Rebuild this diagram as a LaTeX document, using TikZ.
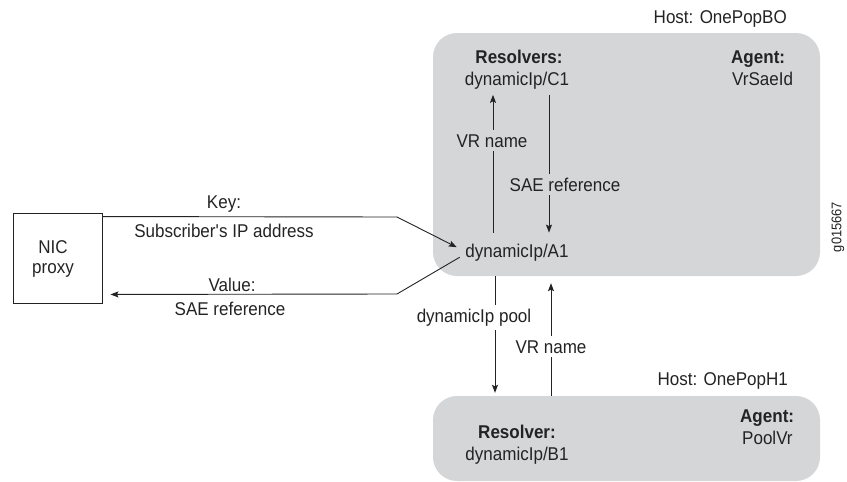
\documentclass[tikz,border=0pt]{standalone}
\usepackage{fontspec}
\setmainfont{Liberation Sans}[FakeStretch=0.92]
\usetikzlibrary{arrows.meta,calc}
\definecolor{hostgray}{RGB}{213,214,216}
\definecolor{ink}{RGB}{35,35,35}
\begin{document}
\fontsize{18.5}{22}\selectfont
\begin{tikzpicture}[x=1pt,y=-1pt,
  txt/.style={inner sep=0pt, anchor=base, text=ink},
  hostbox/.style={fill=hostgray, draw=none, rounded corners=24pt, inner sep=0pt},
  flow/.style={draw=ink, line width=0.9pt, -{Stealth[length=8pt,width=6pt,inset=1.5pt]}},
  cut/.style={txt, inner xsep=2pt, inner ysep=4pt},
]
\useasboundingbox (0,0) rectangle (847,482);

% host areas
\node[hostbox, minimum width=387pt, minimum height=243pt] (bo) at (626.5,154.5) {};
\node[hostbox, minimum width=387pt, minimum height=85pt] (h1) at (626.5,438.5) {};

% host OnePopBO
\node[txt, anchor=base east] (boName) at (787,23) {Host: OnePopBO};
\node[txt, font=\bfseries] (resT) at (519,63) {Resolvers:};
\node[txt, outer ysep=6pt] (C1) at (517,85) {dynamicIp/C1};
\node[txt, anchor=base west, font=\bfseries] (agT) at (731,63) {Agent:};
\node[txt, anchor=base west] (agBO) at (732,85) {VrSaeId};
\node[txt, outer ysep=11pt] (A1) at (517,257) {dynamicIp/A1};

% NIC proxy
\node[draw=ink, line width=0.9pt, minimum width=89pt, minimum height=90pt, inner sep=0pt] (nic) at (57.5,258) {};
\node[txt] (nicA) at (53,253) {NIC};
\node[txt] (nicB) at (53,273) {proxy};

% key / value labels
\node[txt] (keyT) at (224,208) {Key:};
\node[txt] (keyV) at (224,237) {Subscriber\textquotesingle s IP address};
\node[txt] (valT) at (232,291) {Value:};
\node[txt] (valV) at (230,315) {SAE reference};

% host OnePopH1
\node[txt, anchor=base east] (h1Name) at (788,385) {Host: OnePopH1};
\node[txt, font=\bfseries] (resB) at (517,438) {Resolver:};
\node[txt] (B1) at (517,460) {dynamicIp/B1};
\node[txt, anchor=base west, font=\bfseries] (agH) at (740,422) {Agent:};
\node[txt, anchor=base west] (agH1) at (742,444) {PoolVr};

\node[txt, anchor=center, rotate=90, font=\fontsize{14}{16}\selectfont] (fig) at (838,227) {g015667};

% connectors
\draw[flow] ($(nic.north east)+(0,4)$) -- (397,217) -- ($(A1.west)+(-8.5,-5)$);
\draw[flow] ($(A1.west)+(-5.5,5)$) -- (397,294) -- ($(nic.south east)+(8,-9)$);
\draw[flow] ($(A1.north)+(-24,0)$) -- ($(C1.south)+(-24,0)$);
\draw[flow] ($(C1.south)+(32,0)$) -- ($(A1.north)+(32,0)$);
\draw[flow] ($(bo.south)+(-131.5,0)$) -- ($(h1.north)+(-131.5,-3)$);
\draw[flow] ($(h1.north)+(-75.5,0)$) -- ($(bo.south)+(-75.5,7)$);

% labels sitting on the connectors
\node[cut, fill=hostgray] (vrTop) at (492,147) {VR name};
\node[cut, fill=hostgray] (saeTop) at (565,191) {SAE reference};
\node[cut, fill=white] (poolL) at (474,322) {dynamicIp pool};
\node[cut, fill=white] (vrBot) at (551,353) {VR name};
\end{tikzpicture}
\end{document}
